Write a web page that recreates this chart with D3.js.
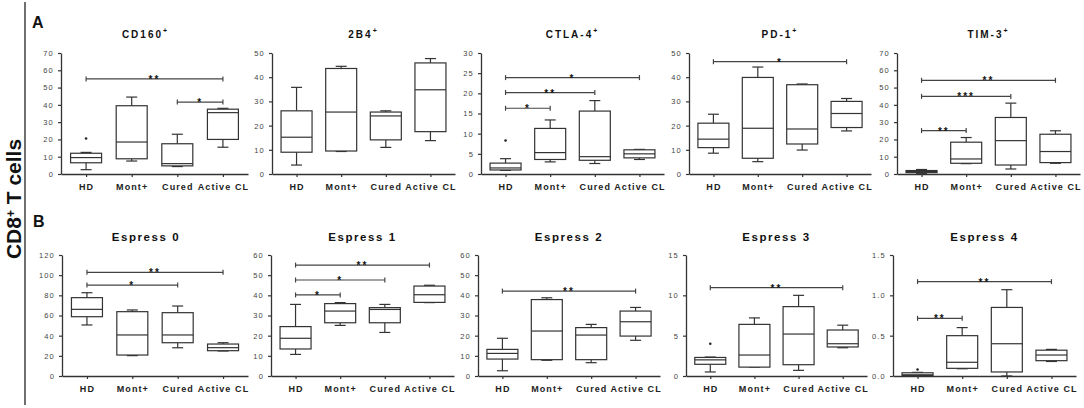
<!DOCTYPE html>
<html>
<head>
<meta charset="utf-8">
<script src="https://cdn.jsdelivr.net/npm/d3@7"></script>
<style>
body { margin: 0; background: #fff; }
svg { display: block; font-family: Arial, "Liberation Sans", sans-serif; }
</style>
</head>
<body>
<svg id="chart" width="1084" height="408"></svg>
<script>
var groups = ["HD", "Mont+", "Cured", "Active CL"];

// box stats per group: [min, q1, median, q3, max]
// sig bars: [from group, to group, y value, stars]
var cd160Box = [[2.5, 6.5, 9.5, 12, 12.5], [7.5, 8.8, 18.5, 39.5, 44.5], [4.3, 4.7, 6, 17.5, 23], [15.5, 20, 35.5, 37.5, 38]];
var cd160Out = [[20.5], [], [], []];
var cd160Sig = [[0, 3, 55, "**"], [2, 3, 41.6, "*"]];
var cd160Ticks = [0, 10, 20, 30, 40, 50, 60, 70];

var b2b4Box = [[3.7, 9, 15.2, 26.1, 35.8], [9.3, 9.5, 25.6, 43.6, 44.5], [11, 14.1, 24, 25.6, 26.1], [13.8, 17.5, 34.8, 45.9, 47.7]];
var b2b4Out = [[], [], [], []];
var b2b4Sig = [];
var b2b4Ticks = [0, 10, 20, 30, 40, 50];

var ctla4Box = [[0.9, 1.0, 1.5, 2.7, 3.8], [3.0, 3.6, 5.3, 11.3, 13.4], [2.6, 3.4, 4.3, 15.6, 18.2], [3.6, 4.0, 5.0, 6.0, 6.1]];
var ctla4Out = [[8.3], [], [], []];
var ctla4Sig = [[0, 3, 23.9, "*"], [0, 2, 20.2, "**"], [0, 1, 16.3, "*"]];
var ctla4Ticks = [0, 5, 10, 15, 20, 25, 30];

var pd1Box = [[8.6, 10.9, 14.4, 21, 24.7], [5.1, 6.5, 18.9, 39.9, 44.2], [9.9, 12.4, 18.6, 36.9, 37.2], [17.8, 19.2, 25, 30, 31.2]];
var pd1Out = [[], [], [], []];
var pd1Sig = [[0, 3, 46.4, "*"]];
var pd1Ticks = [0, 10, 20, 30, 40, 50];

var tim3Box = [[0.2, 0.8, 1.5, 2.0, 2.6], [6, 6.2, 8.7, 18.4, 21.1], [2.9, 5.2, 19.3, 32.7, 41], [6.2, 6.6, 13, 23, 25]];
var tim3Out = [[], [], [], []];
var tim3Sig = [[0, 3, 54.2, "**"], [0, 2, 44.9, "***"], [0, 1, 25.1, "**"]];
var tim3Ticks = [0, 10, 20, 30, 40, 50, 60, 70];

var esp0Box = [[50.6, 58.8, 66.1, 77.7, 82.6], [20.2, 20.8, 40.7, 63.8, 65.5], [28, 33, 40.7, 62.8, 69.4], [24.8, 25.1, 28.1, 31.7, 33]];
var esp0Out = [[], [], [], []];
var esp0Sig = [[0, 3, 102.8, "**"], [0, 2, 90.2, "*"]];
var esp0Ticks = [0, 20, 40, 60, 80, 100, 120];

var esp1Box = [[10.7, 13.4, 18.7, 24.5, 35.5], [25.1, 26.4, 32.2, 35.9, 36.4], [21.6, 26.4, 33, 33.9, 35.5], [36.4, 36.5, 40.3, 44.6, 45]];
var esp1Out = [[], [], [], []];
var esp1Sig = [[0, 3, 55, "**"], [0, 2, 47.6, "*"], [0, 1, 40.2, "*"]];
var esp1Ticks = [0, 10, 20, 30, 40, 50, 60];

var esp2Box = [[2.6, 8.4, 11.2, 13.2, 18.7], [7.8, 8.1, 22.3, 37.9, 38.8], [6.6, 8.1, 20.3, 24, 25.6], [17.7, 19.8, 26.9, 32.2, 34]];
var esp2Out = [[], [], [], []];
var esp2Sig = [[0, 3, 42.1, "**"]];
var esp2Ticks = [0, 10, 20, 30, 40, 50, 60];

var esp3Box = [[0.5, 1.45, 2.0, 2.3, 2.35], [1.1, 1.1, 2.6, 6.4, 7.2], [0.7, 1.4, 5.2, 8.6, 10], [3.5, 3.6, 4.0, 5.7, 6.3]];
var esp3Out = [[4], [], [], []];
var esp3Sig = [[0, 3, 10.95, "**"]];
var esp3Ticks = [0, 5, 10, 15];

var esp4Box = [[0, 0.005, 0.015, 0.04, 0.045], [0.09, 0.095, 0.17, 0.5, 0.6], [0, 0.05, 0.4, 0.85, 1.07], [0.18, 0.19, 0.26, 0.32, 0.33]];
var esp4Out = [[0.08], [], [], []];
var esp4Sig = [[0, 3, 1.17, "**"], [0, 1, 0.715, "**"]];
var esp4Ticks = [0, 0.5, 1, 1.5];

var panels = [
  {title: "CD160", sup: true, box: cd160Box, out: cd160Out, sig: cd160Sig, ticks: cd160Ticks},
  {title: "2B4", sup: true, box: b2b4Box, out: b2b4Out, sig: b2b4Sig, ticks: b2b4Ticks},
  {title: "CTLA-4", sup: true, box: ctla4Box, out: ctla4Out, sig: ctla4Sig, ticks: ctla4Ticks},
  {title: "PD-1", sup: true, box: pd1Box, out: pd1Out, sig: pd1Sig, ticks: pd1Ticks},
  {title: "TIM-3", sup: true, box: tim3Box, out: tim3Out, sig: tim3Sig, ticks: tim3Ticks},
  {title: "Espress 0", sup: false, box: esp0Box, out: esp0Out, sig: esp0Sig, ticks: esp0Ticks},
  {title: "Espress 1", sup: false, box: esp1Box, out: esp1Out, sig: esp1Sig, ticks: esp1Ticks},
  {title: "Espress 2", sup: false, box: esp2Box, out: esp2Out, sig: esp2Sig, ticks: esp2Ticks},
  {title: "Espress 3", sup: false, box: esp3Box, out: esp3Out, sig: esp3Sig, ticks: esp3Ticks},
  {title: "Espress 4", sup: false, box: esp4Box, out: esp4Out, sig: esp4Sig, ticks: esp4Ticks, fmt: ".1f"}
];

// layout: x of y-axis and end of x-axis per column, row top / zero
var colA = [[61, 248], [272, 455], [481, 664], [689, 871], [897, 1080]];
var colB = [[62, 248], [271, 454], [478, 660], [686, 867], [893, 1076]];
var rowY = [[53, 174], [255, 376]];
var titleY = [38, 241];
var ink = "#333";

var svg = d3.select("#chart");

// left bracket line and row label
svg.append("line").attr("x1", 25).attr("x2", 25).attr("y1", 2).attr("y2", 405)
  .attr("stroke", "#222").attr("stroke-width", 1.3);
var lab = svg.append("text")
  .attr("transform", "translate(21,199) rotate(-90)")
  .attr("text-anchor", "middle")
  .style("font-size", "21px").style("font-weight", "bold").attr("fill", "#111");
lab.append("tspan").text("CD8");
lab.append("tspan").text("+").style("font-size", "12px").attr("dy", -6);
lab.append("tspan").text(" T cells").attr("dy", 6);

svg.append("text").attr("x", 32).attr("y", 28).text("A")
  .style("font-size", "16px").style("font-weight", "bold").attr("fill", "#111");
svg.append("text").attr("x", 33).attr("y", 227).text("B")
  .style("font-size", "16px").style("font-weight", "bold").attr("fill", "#111");

panels.forEach(function(p, i) {
  var row = i < 5 ? 0 : 1;
  var col = i % 5;
  var cx = row == 0 ? colA[col] : colB[col];
  var top = rowY[row][0], zero = rowY[row][1];

  var x = d3.scalePoint().domain(groups).range(cx).padding(0.55);
  var y = d3.scaleLinear().domain([0, p.ticks[p.ticks.length - 1]]).range([zero, top]);
  var g = svg.append("g");

  // axes
  var yAx = g.append("g").attr("transform", "translate(" + cx[0] + ",0)")
    .call(d3.axisLeft(y).tickValues(p.ticks).tickSize(3).tickSizeOuter(0).tickPadding(4)
      .tickFormat(p.fmt ? d3.format(p.fmt) : d3.format("d")));
  var xAx = g.append("g").attr("transform", "translate(0," + zero + ")")
    .call(d3.axisBottom(x).tickSize(3).tickSizeOuter(0).tickPadding(6.5));
  [yAx, xAx].forEach(function(a) {
    a.select(".domain").attr("stroke", ink).attr("stroke-width", 1.3);
    a.selectAll(".tick line").attr("stroke", ink).attr("stroke-width", 1.2);
  });
  yAx.selectAll("text").attr("fill", "#444").style("font-size", "7.5px")
    .style("letter-spacing", "1.2px").style("font-family", "Arial, 'Liberation Sans', sans-serif");
  xAx.selectAll("text").attr("fill", "#222").style("font-size", "9px").style("font-weight", "bold")
    .style("letter-spacing", "1.1px").style("font-family", "Arial, 'Liberation Sans', sans-serif");

  // title
  var tx = (cx[0] + cx[1]) / 2 + (col == 0 ? -9 : 0);
  var t = g.append("text").attr("x", tx).attr("y", titleY[row]).attr("text-anchor", "middle")
    .attr("fill", "#111").style("font-weight", "bold")
    .style("font-size", row == 0 ? "10px" : "11.5px")
    .style("letter-spacing", row == 0 ? "2px" : "1.6px");
  t.append("tspan").text(p.title);
  if (p.sup) t.append("tspan").text("+").style("font-size", "7px").attr("dy", -5);

  // boxes
  var bw = 31, cw = 11;
  var bx = g.selectAll(".bx").data(p.box).enter().append("g")
    .attr("transform", function(d, j) { return "translate(" + x(groups[j]) + ",0)"; });
  bx.append("line").attr("y1", function(d) { return y(d[0]); }).attr("y2", function(d) { return y(d[1]); })
    .attr("stroke", ink).attr("stroke-width", 1.2);
  bx.append("line").attr("y1", function(d) { return y(d[3]); }).attr("y2", function(d) { return y(d[4]); })
    .attr("stroke", ink).attr("stroke-width", 1.2);
  bx.append("line").attr("x1", -cw / 2).attr("x2", cw / 2)
    .attr("y1", function(d) { return y(d[0]); }).attr("y2", function(d) { return y(d[0]); })
    .attr("stroke", ink).attr("stroke-width", 1.2);
  bx.append("line").attr("x1", -cw / 2).attr("x2", cw / 2)
    .attr("y1", function(d) { return y(d[4]); }).attr("y2", function(d) { return y(d[4]); })
    .attr("stroke", ink).attr("stroke-width", 1.2);
  bx.append("rect").attr("x", -bw / 2).attr("width", bw)
    .attr("y", function(d) { return y(d[3]); })
    .attr("height", function(d) { return Math.max(0.5, y(d[1]) - y(d[3])); })
    .attr("fill", "#fff").attr("stroke", ink).attr("stroke-width", 1.2);
  bx.append("line").attr("x1", -bw / 2).attr("x2", bw / 2)
    .attr("y1", function(d) { return y(d[2]); }).attr("y2", function(d) { return y(d[2]); })
    .attr("stroke", ink).attr("stroke-width", 1.2);

  // outliers
  p.out.forEach(function(vals, j) {
    vals.forEach(function(v) {
      g.append("circle").attr("cx", x(groups[j])).attr("cy", y(v)).attr("r", 1.3).attr("fill", "#222");
    });
  });

  // significance bars
  p.sig.forEach(function(s) {
    var x1 = x(groups[s[0]]), x2 = x(groups[s[1]]), yy = y(s[2]);
    g.append("line").attr("x1", x1).attr("x2", x2).attr("y1", yy).attr("y2", yy)
      .attr("stroke", "#444").attr("stroke-width", 1.2);
    [x1, x2].forEach(function(xe) {
      g.append("line").attr("x1", xe).attr("x2", xe).attr("y1", yy - 2.5).attr("y2", yy + 2.5)
        .attr("stroke", "#444").attr("stroke-width", 1.2);
    });
    g.append("text").attr("x", (x1 + x2) / 2).attr("y", yy + 4).attr("text-anchor", "middle")
      .text(s[3]).attr("fill", "#111").style("font-size", "10px").style("font-weight", "bold")
      .style("letter-spacing", "2px");
  });
});
</script>
</body>
</html>
